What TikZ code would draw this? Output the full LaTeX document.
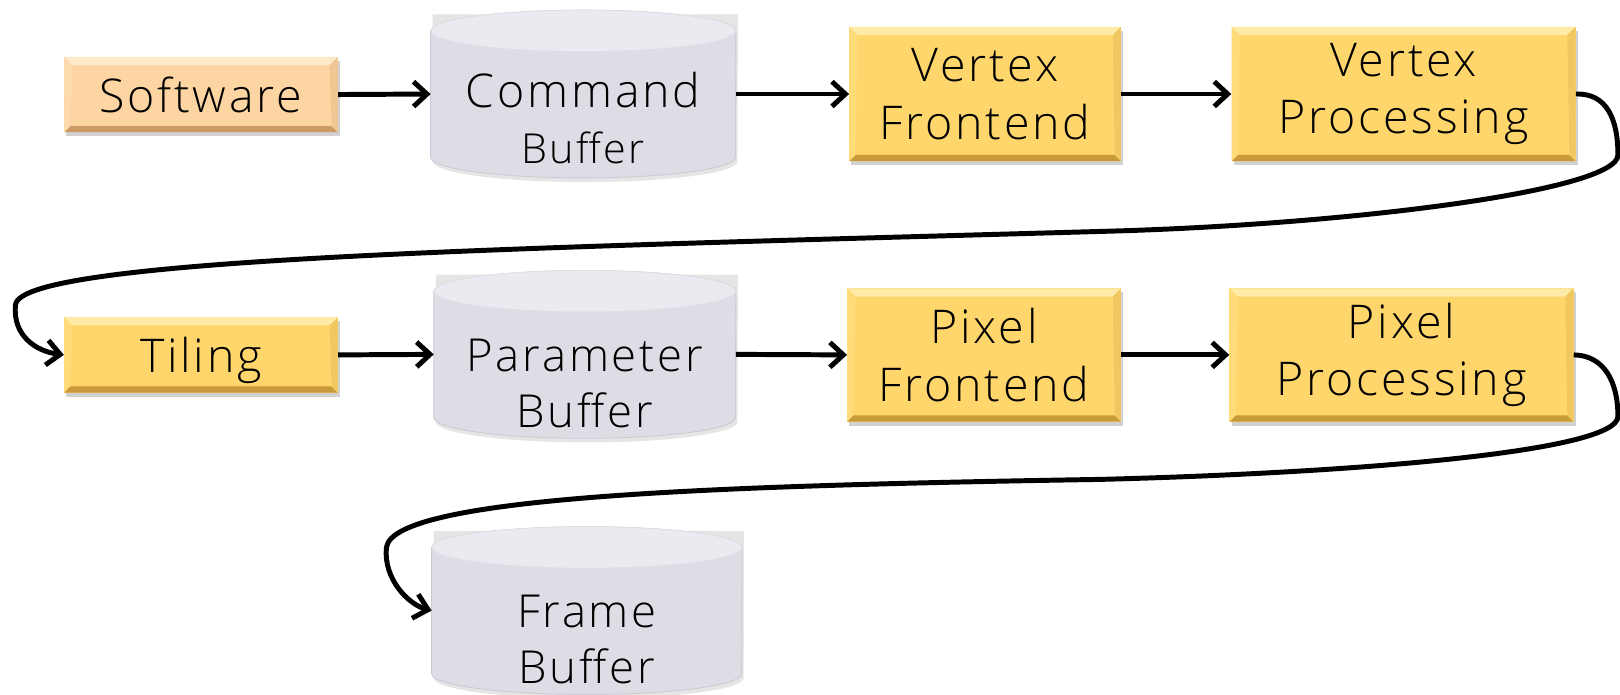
\documentclass[tikz,border=0pt]{standalone}
\usepackage{fontspec}
\setmainfont{Open Sans}[UprightFont=* Light, LetterSpace=6]
\usetikzlibrary{arrows.meta,shadows}
\definecolor{gold}{HTML}{FFD66B}
\definecolor{goldlight}{HTML}{FFEBA8}
\definecolor{golddark}{HTML}{C99A3A}
\definecolor{peach}{HTML}{FCD5A2}
\definecolor{peachlight}{HTML}{FEEACB}
\definecolor{peachdark}{HTML}{CC9A64}
\definecolor{cylside}{HTML}{DDDDE5}
\definecolor{cyltop}{HTML}{EAEAF0}
\definecolor{cyledge}{HTML}{CACAD4}
\tikzset{
  x=1pt, y=1pt,
  bevelbox/.style args={#1/#2/#3}{rectangle, fill=#1, inner sep=0pt, align=center,
    font=\fontsize{45}{56}\selectfont,
    drop shadow={shadow xshift=2pt, shadow yshift=-4pt, opacity=0.3, fill=black!60},
    path picture={
      \coordinate (NW) at (path picture bounding box.north west);
      \coordinate (NE) at (path picture bounding box.north east);
      \coordinate (SW) at (path picture bounding box.south west);
      \coordinate (SE) at (path picture bounding box.south east);
      \fill[#2] (NW) -- (NE) -- ([shift={(-8pt,-8pt)}]NE) -- ([shift={(8pt,-8pt)}]NW) -- cycle;
      \fill[#3] (SW) -- (SE) -- ([shift={(-6pt,6pt)}]SE) -- ([shift={(6pt,6pt)}]SW) -- cycle;
      \fill[#1!75!#3] (NE) -- (SE) -- ([shift={(-6pt,6pt)}]SE) -- ([shift={(-8pt,-8pt)}]NE) -- cycle;
      \fill[#1!75!#2] (NW) -- (SW) -- ([shift={(6pt,6pt)}]SW) -- ([shift={(8pt,-8pt)}]NW) -- cycle;
    }},
  goldbox/.style={bevelbox=gold/goldlight/golddark},
  peachbox/.style={bevelbox=peach/peachlight/peachdark},
  cylnode/.style={rectangle, inner sep=0pt},
  cyltext/.style={align=center, inner sep=0pt, font=\fontsize{44}{54}\selectfont},
  flow/.style={line width=4.8pt, -{Straight Barb[length=13pt,width=24pt,line width=4.8pt]}},
}
\newcommand\drawcyl[2]{%
  \fill[black,opacity=0.10] ([shift={(2pt,-4pt)}]#1.north west) -- ([shift={(2pt,16pt)}]#1.south west)
     arc[start angle=180,end angle=360,x radius=#2,y radius=20pt] -- ([shift={(2pt,-4pt)}]#1.north east) -- cycle;
  \fill[cylside, draw=cyledge, line width=0.8pt] ([yshift=-20pt]#1.north west) -- ([yshift=20pt]#1.south west)
     arc[start angle=180,end angle=360,x radius=#2,y radius=20pt] -- ([yshift=-20pt]#1.north east)
     arc[start angle=0,end angle=180,x radius=#2,y radius=20pt] -- cycle;
  \fill[cyltop, draw=cyledge!60!white, line width=0.6pt] ([yshift=-20pt]#1.north) ellipse[x radius=#2, y radius=20pt];
}
\begin{document}
\begin{tikzpicture}
\useasboundingbox (0,0) rectangle (1568,-672);
% row 1
\node[peachbox, minimum width=265pt, minimum height=73pt] (sw) at (194.5,-91.5) {Software};
\node[cylnode, minimum width=295pt, minimum height=162pt] (cb) at (564.5,-91) {};
\drawcyl{cb}{147.5pt}
\node[cyltext] (cbt) at (564.5,-114) {{\fontsize{45}{49}\selectfont Command}\\{\fontsize{40}{44}\selectfont Buffer}};
\node[goldbox, minimum width=263pt, minimum height=130pt] (vf) at (953.5,-91) {Vertex\\Frontend};
\node[goldbox, minimum width=333pt, minimum height=130pt] (vp) at (1358.5,-91) {Vertex\\Processing};
% row 2
\node[goldbox, minimum width=265pt, minimum height=73pt, text depth=0pt] (ti) at (194.5,-343.5) {Tiling};
\node[cylnode, minimum width=292pt, minimum height=162pt] (pb) at (566,-343) {};
\drawcyl{pb}{146pt}
\node[cyltext] (pbt) at (566,-371) {Parameter\\Buffer};
\node[goldbox, minimum width=265pt, minimum height=129pt] (pf) at (952.5,-343.5) {Pixel\\Frontend};
\node[goldbox, minimum width=333pt, minimum height=129pt] (pp) at (1356.5,-343.5) {Pixel\\Processing};
% row 3
\node[cylnode, minimum width=300pt, minimum height=162pt] (fb) at (568,-591) {};
\drawcyl{fb}{150pt}
\node[cyltext] (fbt) at (568,-619) {Frame\\Buffer};
% connectors
\draw[flow] (sw.east) -- (cb.west);
\draw[flow] (cb.east) -- (vf.west);
\draw[flow] (vf.east) -- (vp.west);
\draw[flow] (ti.east) -- (pb.west);
\draw[flow] (pb.east) -- (pf.west);
\draw[flow] (pf.east) -- (pp.west);
\draw[flow] (vp.east) .. controls (1555,-90) and (1566,-115) .. (1566,-150)
   .. controls (1566,-185) and (1300,-218) .. (1065,-224)
   .. controls (500,-240) and (20,-250) .. (15,-295)
   .. controls (12,-325) and (35,-340) .. (ti.west);
\draw[flow] (pp.east) .. controls (1553,-344) and (1566,-370) .. (1566,-403)
   .. controls (1566,-438) and (1300,-458) .. (1065,-464)
   .. controls (700,-470) and (380,-480) .. (374,-530)
   .. controls (371,-560) and (395,-585) .. (fb.west);
\end{tikzpicture}
\end{document}
